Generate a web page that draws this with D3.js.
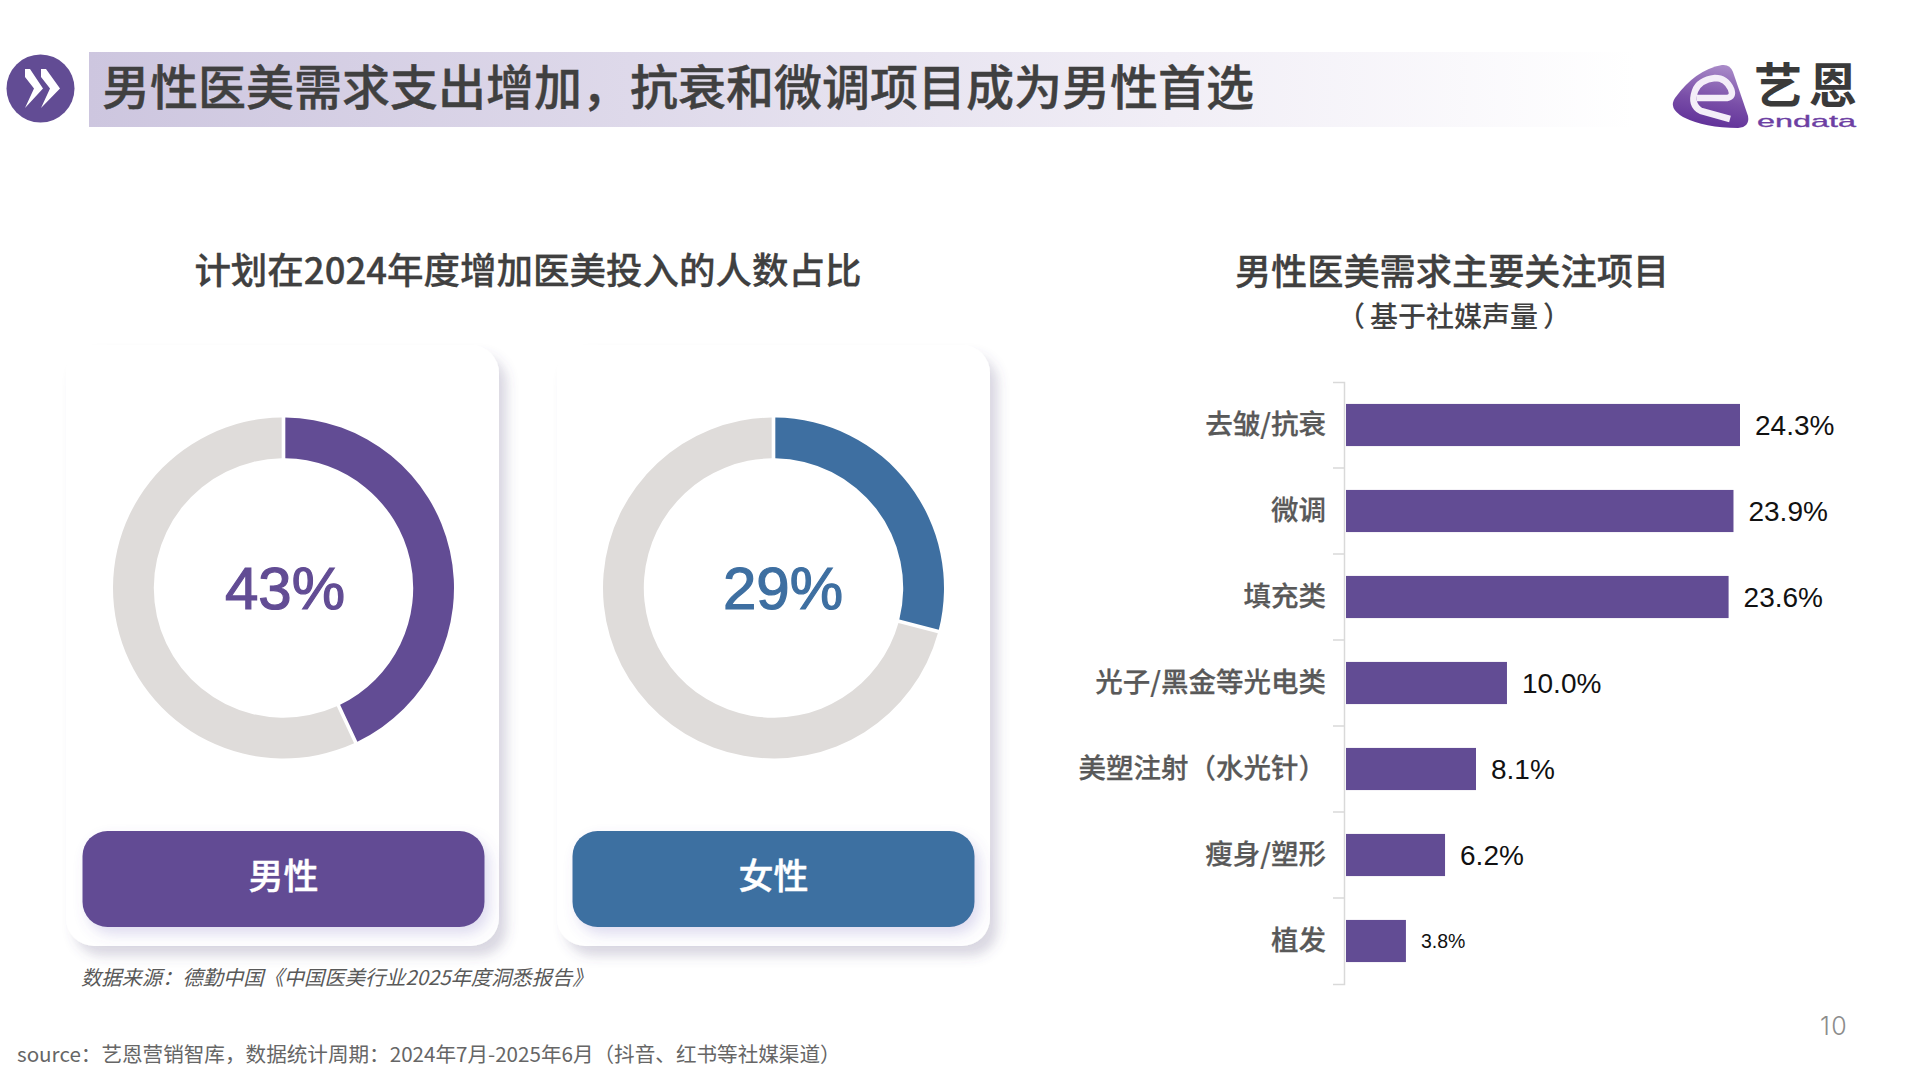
<!DOCTYPE html>
<html>
<head>
<meta charset="utf-8">
<script src="https://cdn.jsdelivr.net/npm/d3@7"></script>
<style>
  body { margin: 0; background: #fff; }
  svg { display: block; }
  text { font-family: "Noto Sans CJK SC", sans-serif; }
  .latin { font-family: "Liberation Sans", sans-serif; }
  .big-num { font-family: "Inter", sans-serif; }
</style>
</head>
<body>
<svg id="chart" width="1920" height="1080" viewBox="0 0 1920 1080"></svg>
<script>
const pageTitle = "男性医美需求支出增加，抗衰和微调项目成为男性首选";
const leftTitle = "计划在2024年度增加医美投入的人数占比";
const rightTitle = "男性医美需求主要关注项目";
const rightSubtitle = "基于社媒声量";
const donutNote = "数据来源：德勤中国《中国医美行业2025年度洞悉报告》";
const footer = "source：艺恩营销智库，数据统计周期：2024年7月-2025年6月（抖音、红书等社媒渠道）";

const donutNames = ["男性", "女性"];
const donutShares = [43, 29];

const categories = ["去皱/抗衰", "微调", "填充类", "光子/黑金等光电类", "美塑注射（水光针）", "瘦身/塑形", "植发"];
const shares = [24.3, 23.9, 23.6, 10.0, 8.1, 6.2, 3.8];

const purple = "#624c94";
const blue = "#3e6fa1";
const ringGrey = "#dfdcda";
const ink = "#404040";

const svg = d3.select("#chart");
const defs = svg.append("defs");

const bannerGrad = defs.append("linearGradient").attr("id", "bannerGrad");
bannerGrad.append("stop").attr("offset", 0).attr("stop-color", "#cdc6df");
bannerGrad.append("stop").attr("offset", 0.35).attr("stop-color", "#ded9ea");
bannerGrad.append("stop").attr("offset", 0.7).attr("stop-color", "#f1eef6");
bannerGrad.append("stop").attr("offset", 1).attr("stop-color", "#ffffff");

const logoGrad = defs.append("linearGradient").attr("id", "logoGrad")
  .attr("x1", 0.6).attr("y1", 0).attr("x2", 0.4).attr("y2", 1);
logoGrad.append("stop").attr("offset", 0).attr("stop-color", "#a98ac8");
logoGrad.append("stop").attr("offset", 0.55).attr("stop-color", "#7a4fa8");
logoGrad.append("stop").attr("offset", 1).attr("stop-color", "#5f2f98");

const cardShadow = defs.append("filter").attr("id", "cardShadow")
  .attr("x", "-15%").attr("y", "-15%").attr("width", "130%").attr("height", "130%");
cardShadow.append("feDropShadow").attr("dx", 8).attr("dy", 10).attr("stdDeviation", 6)
  .attr("flood-color", "#56507a").attr("flood-opacity", 0.22);

const buttonShadow = defs.append("filter").attr("id", "buttonShadow")
  .attr("x", "-15%").attr("y", "-30%").attr("width", "130%").attr("height", "160%");
buttonShadow.append("feDropShadow").attr("dx", 5).attr("dy", 7).attr("stdDeviation", 7)
  .attr("flood-color", "#6a5cb8").attr("flood-opacity", 0.22);

// header
svg.append("rect").attr("x", 89).attr("y", 52).attr("width", 1546).attr("height", 75)
  .attr("fill", "url(#bannerGrad)");
svg.append("ellipse").attr("cx", 40.5).attr("cy", 88.5).attr("rx", 34).attr("ry", 34).attr("fill", purple);
svg.append("path").attr("fill", "#fff")
  .attr("d", "M25,69 L30,69 L43,88.5 L25,108 L34,88.5 L25,77 Z M41,69 L46,69 L60,88.5 L41,108 L50,88.5 L41,77 Z");
svg.append("text").attr("x", 102).attr("y", 105)
  .attr("font-size", 48).attr("font-weight", 500).attr("fill", ink)
  .attr("stroke", ink).attr("stroke-width", 0.4).text(pageTitle);

// logo
svg.append("path").attr("fill", "url(#logoGrad)")
  .attr("d", "M1675,98 Q1695,70 1722,65 Q1730,64 1733,72 L1748,116 Q1750,127 1738,128 Q1705,128 1683,117 Q1668,108 1675,98 Z");
svg.append("path").attr("fill", "none").attr("stroke", "#f4eef8").attr("stroke-width", 6.5)
  .attr("d", "M1697,98 L1727,98 Q1734,97 1731,89 Q1726,78 1715,78 Q1699,80 1695,91 Q1690,105 1701,111 L1730,119");
svg.append("text").attr("x", 1754).attr("y", 103).attr("font-size", 48).attr("font-weight", 700)
  .attr("letter-spacing", 7).attr("fill", "#3a3a3a").text("艺恩");
svg.append("text").attr("class", "latin").attr("x", 1757).attr("y", 127).attr("font-size", 17)
  .attr("textLength", 99).attr("lengthAdjust", "spacingAndGlyphs").attr("fill", "#6d3fa3")
  .attr("stroke", "#6d3fa3").attr("stroke-width", 0.3).text("endata");

// donut cards
const pie = d3.pie().sort(null).padAngle(0.017);
const arc = d3.arc().innerRadius(129.7).outerRadius(170.5);

const cardX = [66, 557];
const cardW = 433;
const cardCx = [283.5, 773.5];
const numCx = [285, 783];
const accent = [purple, blue];

svg.append("text").attr("x", 528).attr("y", 284).attr("text-anchor", "middle")
  .attr("font-size", 36.5).attr("font-weight", 500).attr("fill", ink)
  .attr("stroke", ink).attr("stroke-width", 0.3).text(leftTitle);

donutNames.forEach((name, i) => {
  svg.append("rect").attr("x", cardX[i]).attr("y", 345).attr("width", cardW).attr("height", 601)
    .attr("rx", 28).attr("fill", "#fff").attr("filter", "url(#cardShadow)");

  const g = svg.append("g").attr("transform", `translate(${cardCx[i]},588)`);
  g.selectAll("path").data(pie([donutShares[i], 100 - donutShares[i]])).join("path")
    .attr("d", arc)
    .attr("fill", (d, j) => (j === 0 ? accent[i] : ringGrey));

  svg.append("text").attr("class", "latin").attr("x", numCx[i]).attr("y", 609)
    .attr("text-anchor", "middle").attr("font-size", 60)
    .attr("fill", accent[i]).attr("stroke", accent[i]).attr("stroke-width", 1.2)
    .text(donutShares[i] + "%");

  svg.append("rect").attr("x", cardCx[i] - 201).attr("y", 831).attr("width", 402).attr("height", 96)
    .attr("rx", 25).attr("fill", accent[i]).attr("filter", "url(#buttonShadow)");
  svg.append("text").attr("x", cardCx[i]).attr("y", 889).attr("text-anchor", "middle")
    .attr("font-size", 35).attr("font-weight", 500).attr("fill", "#fff")
    .attr("stroke", "#fff").attr("stroke-width", 0.4).text(name);
});

svg.append("text").attr("x", 81).attr("y", 985).attr("font-size", 20.3).attr("font-style", "italic")
  .attr("fill", "#595959").text(donutNote);

// bar chart
svg.append("text").attr("x", 1452).attr("y", 285).attr("text-anchor", "middle")
  .attr("font-size", 36.2).attr("font-weight", 500).attr("fill", ink)
  .attr("stroke", ink).attr("stroke-width", 0.3).text(rightTitle);
const sub = svg.append("text").attr("x", 1454).attr("y", 327).attr("text-anchor", "middle")
  .attr("font-size", 28).attr("font-weight", 500).attr("fill", ink);
sub.append("tspan").text("（");
sub.append("tspan").attr("dx", 5).text(rightSubtitle);
sub.append("tspan").attr("dx", 5).text("）");

const rows = categories.map((name, i) => ({ name, value: shares[i] }));

const x = d3.scaleLinear().domain([0, 24.3]).range([1344, 1740]);
const y = d3.scaleBand().domain(categories).range([382, 984]).paddingInner(0.51).paddingOuter(0.255);
const barLeft = x(0) + 2;

const yAxisG = svg.append("g").attr("transform", "translate(1344,0)")
  .call(d3.axisLeft(y).tickSizeInner(0).tickSizeOuter(11).tickPadding(18));
yAxisG.select(".domain").attr("stroke", "#d9d9d9").attr("stroke-width", 1.5);
yAxisG.selectAll("text").attr("font-size", 27.5).attr("font-weight", 500).attr("fill", "#595959")
  .attr("stroke", "#595959").attr("stroke-width", 0.25);
yAxisG.selectAll(".sep").data(categories.slice(1)).join("line").attr("class", "sep")
  .attr("x1", -11).attr("x2", 0)
  .attr("y1", (d) => y(d) - y.step() * 0.255).attr("y2", (d) => y(d) - y.step() * 0.255)
  .attr("stroke", "#d9d9d9").attr("stroke-width", 1.5);

svg.selectAll(".bar").data(rows).join("rect").attr("class", "bar")
  .attr("x", barLeft).attr("y", (d) => y(d.name))
  .attr("width", (d) => x(d.value) - barLeft).attr("height", y.bandwidth())
  .attr("fill", purple);

svg.selectAll(".value").data(rows).join("text").attr("class", "value latin")
  .attr("x", (d) => x(d.value) + 15).attr("y", (d) => y(d.name) + y.bandwidth() / 2)
  .attr("dy", "0.35em")
  .attr("font-size", (d) => (d.value < 5 ? 19.5 : 28))
  .attr("fill", "#111")
  .text((d) => d.value.toFixed(1) + "%");

// footer
svg.append("text").attr("x", 17).attr("y", 1062).attr("font-size", 20.6).attr("fill", "#666").text(footer);
svg.append("text").attr("class", "big-num").attr("x", 1820).attr("y", 1035)
  .attr("font-size", 25).attr("font-weight", 300).attr("letter-spacing", 1.5).attr("fill", "#8c8c8c").text("10");
</script>
</body>
</html>
